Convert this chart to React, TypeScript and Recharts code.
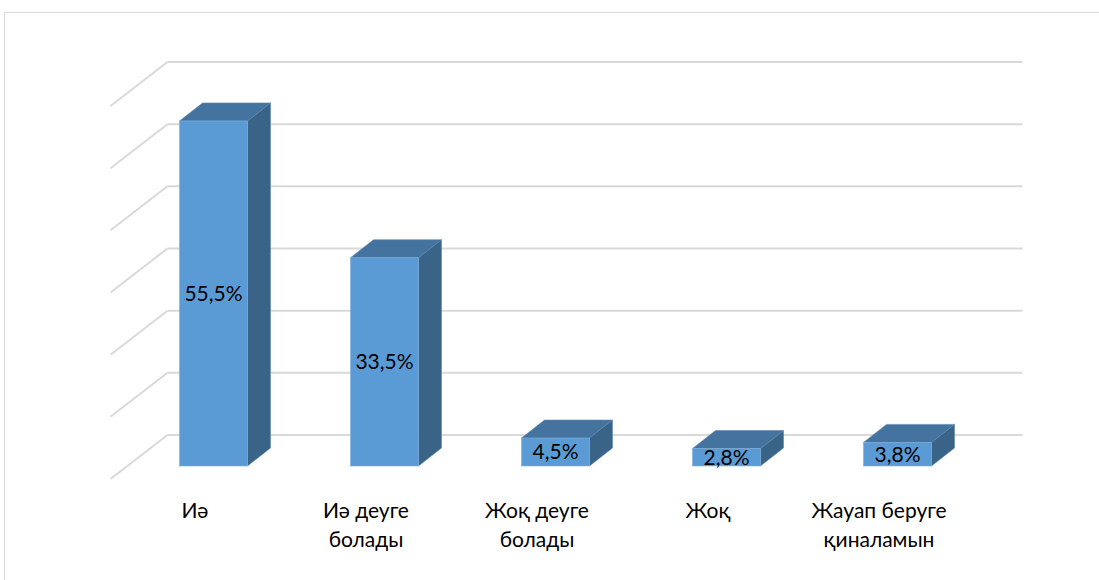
import React from 'react'
import { BarChart, Bar, XAxis, YAxis, CartesianGrid, LabelList } from 'recharts'

const categories = ['Иә', 'Иә деуге\nболады', 'Жоқ деуге\nболады', 'Жоқ', 'Жауап беруге\nқиналамын']
const values = [55.5, 33.5, 4.5, 2.8, 3.8]
const yTicks = [0, 10, 20, 30, 40, 50, 60]

const chartData = categories.map((name, i) => ({ name, value: values[i] }))

// oblique projection: floor front -> bar front -> bar back -> back wall
const BAR_FRONT = { dx: 17, dy: 13 } // bar front relative to floor front edge
const BAR_DEPTH = { dx: 23, dy: 18 }
const WALL = { dx: 40, dy: 31 } // back wall relative to bar front plane

const GRID = '#D9D9D9'
const FONT = 'Lato, "Noto Sans", sans-serif'

const GridLine = (props: any) => {
  const { x1, x2, y1 } = props
  return (
    <g>
      <line x1={x1 - BAR_FRONT.dx} y1={y1 + BAR_FRONT.dy} x2={x1 + WALL.dx} y2={y1 - WALL.dy} stroke={GRID} strokeWidth={2} />
      <line x1={x1 + WALL.dx} y1={y1 - WALL.dy} x2={x2 + WALL.dx} y2={y1 - WALL.dy} stroke={GRID} strokeWidth={2} />
    </g>
  )
}

const Bar3D = (props: any) => {
  const { x, y, width, height } = props
  const dx = BAR_DEPTH.dx
  const dy = BAR_DEPTH.dy
  return (
    <g>
      <polygon
        points={`${x},${y} ${x + dx},${y - dy} ${x + width + dx},${y - dy} ${x + width},${y}`}
        fill="#44739F"
        stroke="#5A86B0"
        strokeWidth={0.6}
      />
      <polygon
        points={`${x + width},${y} ${x + width + dx},${y - dy} ${x + width + dx},${y + height - dy} ${x + width},${y + height}`}
        fill="#3A6487"
        stroke="#5A86B0"
        strokeWidth={0.6}
      />
      <rect x={x} y={y} width={width} height={height} fill="#5B9BD5" stroke="#7FAEDB" strokeWidth={0.6} />
    </g>
  )
}

const CategoryTick = (props: any) => {
  const { x, y, payload } = props
  const lines = String(payload.value).split('\n')
  return (
    <text x={x - 18} y={y + 44} textAnchor="middle" fill="#000" fontSize={21} fontFamily={FONT}>
      {lines.map((line, i) => (
        <tspan key={i} x={x - 18} dy={i === 0 ? 0 : 29}>
          {line}
        </tspan>
      ))}
    </text>
  )
}

export default function App() {
  return (
    <div style={{ position: 'absolute', left: 0, top: 0, width: 1099, height: 580, overflow: 'hidden', background: '#fff' }}>
      <div
        style={{ position: 'absolute', left: 4, top: 12, width: 1200, height: 700, border: '1px solid #D9D9D9', boxSizing: 'border-box' }}
      />
      <div style={{ position: 'absolute', left: 0, top: 0 }}>
        <BarChart width={1099} height={580} data={chartData} margin={{ top: 93, right: 116.5, left: 127.5, bottom: 34 }} barSize={68}>
          <CartesianGrid vertical={false} horizontal={GridLine} />
          <XAxis dataKey="name" height={80} axisLine={false} tickLine={false} interval={0} tick={CategoryTick} />
          <YAxis hide domain={[0, 60]} ticks={yTicks} />
          <Bar dataKey="value" shape={Bar3D} isAnimationActive={false}>
            <LabelList
              dataKey="value"
              position="center"
              formatter={(v: any) => `${String(v).replace('.', ',')}%`}
              fill="#000"
              fontSize={21}
              fontFamily={FONT}
            />
          </Bar>
        </BarChart>
      </div>
    </div>
  )
}
